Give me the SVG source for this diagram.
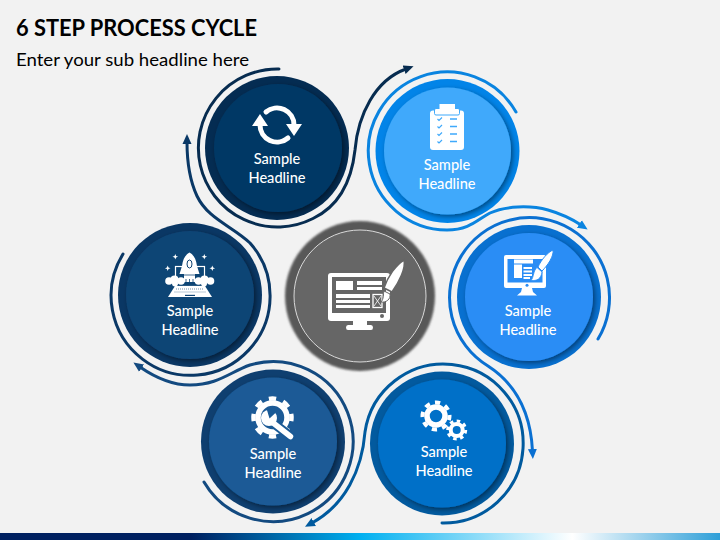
<svg xmlns="http://www.w3.org/2000/svg" width="720" height="540" viewBox="0 0 720 540">
<style>
text{font-family:Lato,"Liberation Sans",sans-serif}
.lb{fill:#fff;font-size:14.6px;text-anchor:middle;font-weight:500}
.c{fill:none;stroke-width:3;stroke-linecap:round}
.w{fill:#fff}
</style>
<defs>
<linearGradient id="foot" x1="0" x2="1" y1="0" y2="0">
<stop offset="0" stop-color="#002060"/><stop offset=".265" stop-color="#002060"/><stop offset=".5" stop-color="#00b0f0"/><stop offset=".795" stop-color="#fff"/><stop offset="1" stop-color="#2e9fd8"/>
</linearGradient>
<filter id="sh" x="-20%" y="-20%" width="140%" height="140%"><feDropShadow dx="2" dy="2" stdDeviation="2.5" flood-color="#000" flood-opacity=".45"/></filter>
<filter id="gl" x="-20%" y="-20%" width="140%" height="140%"><feGaussianBlur stdDeviation="1.200"/></filter>
<marker id="a1" markerUnits="userSpaceOnUse" markerWidth="10" markerHeight="10" refX="2" refY="5" orient="auto"><path d="M0,.5 10,5 0,9.5z" fill="#072c50"/></marker>
<marker id="a2" markerUnits="userSpaceOnUse" markerWidth="10" markerHeight="10" refX="2" refY="5" orient="auto"><path d="M0,.5 10,5 0,9.5z" fill="#0a84e0"/></marker>
<marker id="a3" markerUnits="userSpaceOnUse" markerWidth="10" markerHeight="10" refX="2" refY="5" orient="auto"><path d="M0,.5 10,5 0,9.5z" fill="#0a70d2"/></marker>
<marker id="a4" markerUnits="userSpaceOnUse" markerWidth="10" markerHeight="10" refX="2" refY="5" orient="auto"><path d="M0,.5 10,5 0,9.5z" fill="#0a3866"/></marker>
<marker id="a5" markerUnits="userSpaceOnUse" markerWidth="10" markerHeight="10" refX="2" refY="5" orient="auto"><path d="M0,.5 10,5 0,9.5z" fill="#134a80"/></marker>
<marker id="a6" markerUnits="userSpaceOnUse" markerWidth="10" markerHeight="10" refX="2" refY="5" orient="auto"><path d="M0,.5 10,5 0,9.5z" fill="#005a9e"/></marker>
</defs>
<rect width="720" height="540" fill="#f2f2f2"/>
<rect y="533" width="720" height="7" fill="url(#foot)"/>
<text x="16" y="36" font-size="23" font-weight="700" fill="#000" textLength="241" lengthAdjust="spacingAndGlyphs">6 STEP PROCESS CYCLE</text>
<text x="16" y="65.500" font-size="17.500" fill="#000" textLength="233" lengthAdjust="spacingAndGlyphs">Enter your sub headline here</text>

<g id="connectors">
<path class="c" stroke="#072c50" marker-end="url(#a1)" d="M279,69A79,79 0 1 0 313,218.500C335,208 351,186 355,150C358,115 375,80 406,69"/>
<path class="c" stroke="#0a84e0" marker-end="url(#a2)" d="M516,112A79,79 0 1 0 447,230C470,230 478,219 490,213C505,206 530,205 548,210C562,214 572,219 581,225"/>
<path class="c" stroke="#0a70d2" marker-end="url(#a3)" d="M598,339A80,80 0 1 0 488,366C505,377 530,400 532.500,451"/>
<path class="c" stroke="#0a3866" marker-end="url(#a4)" d="M123,254A79.500,79.500 0 1 0 250,243C232,226 208,219 197,196C190,181 187,160 187,142"/>
<path class="c" stroke="#134a80" marker-end="url(#a5)" d="M204,482A80,80 0 1 0 250,365C230,372 218,385 190,385C170,385 153,376 140,367"/>
<path class="c" stroke="#005a9e" marker-end="url(#a6)" d="M442,523A79.500,79.500 0 1 0 365,432C362,470 345,505 312,523"/>
</g>

<g id="node-center">
<circle cx="360" cy="296" r="75" fill="#595959" filter="url(#gl)"/>
<circle cx="360" cy="296" r="66" fill="#666" stroke="#d9d9d9" stroke-width="1"/>
<rect x="328" y="273" width="62" height="48" rx="3" class="w"/>
<rect x="332" y="277" width="54" height="36" fill="#666"/>
<path class="w" d="M353,321H367L367,325H371Q373,325 373,327.500T371,330H348Q346,330 346,327.500T348,325H353Z"/>
<circle cx="382" cy="316" r="2" fill="#666"/>
<path class="w" d="M336,281H353V290H336ZM357,281H382V285H357ZM357,287H382V290H357ZM336,294H370V298H336ZM336,300H370V303H336ZM336,305H370V308H336Z"/>
<rect x="373" y="294.500" width="9" height="13" fill="#666" stroke="#fff" stroke-width="1.300"/>
<path d="M374,296L381,306M381,296L374,306" stroke="#fff" stroke-width=".8"/>
<path d="M404,260C406,268 399,282 392,292L384,288C388,276 396,265 404,260Z" class="w" stroke="#666" stroke-width="1.500"/>
<path d="M384,291L390,294C391,299 386,303 381,302C384,299 383,294 384,291Z" class="w" stroke="#666" stroke-width="1"/>
</g>

<g id="node-1">
<circle cx="277" cy="148" r="72" fill="#042c52"/>
<circle cx="278" cy="148" r="64" fill="#053865" filter="url(#sh)"/>
<path d="M260,125A17,17 0 0 0 288,138M294,125A17,17 0 0 0 266,112" fill="none" stroke="#fff" stroke-width="5" stroke-linecap="round"/>
<path class="w" d="M252,126H268L260,114ZM286,124H302L294,136Z"/>
<text class="lb" x="277" y="164">Sample</text><text class="lb" x="277" y="183">Headline</text>
</g>

<g id="node-2">
<circle cx="447.500" cy="151" r="72" fill="#0284e8"/>
<circle cx="447.500" cy="151" r="63.500" fill="#3fa9fb" filter="url(#sh)"/>
<rect x="430" y="110.500" width="34" height="39.500" rx="3" class="w"/>
<rect x="434.500" y="108.500" width="25" height="6.500" rx="1.500" class="w" stroke="#3fa9fb" stroke-width="1"/>
<rect x="439.500" y="104" width="15.500" height="6" class="w"/>
<path d="M437.500,119l1.500,1.500 3,-3M437.500,126.500l1.500,1.500 3,-3M437.500,134l1.500,1.500 3,-3M437.500,141.500l1.500,1.500 3,-3" fill="none" stroke="#3fa9fb" stroke-width="1.200"/>
<path d="M450,119H457M450,126.500H457M450,134H457M450,141.500H457" stroke="#3fa9fb" stroke-width="1.400"/>
<text class="lb" x="447" y="170">Sample</text><text class="lb" x="447" y="189">Headline</text>
</g>

<g id="node-3">
<circle cx="529" cy="297" r="72" fill="#0870d0"/>
<circle cx="529" cy="297" r="64" fill="#2a8df5" filter="url(#sh)"/>
<rect x="504" y="255" width="42" height="33" rx="2" class="w"/>
<rect x="507.500" y="259" width="35" height="23.500" fill="#2a8df5"/>
<circle cx="527" cy="285.300" r="1.500" fill="#2a8df5"/>
<path class="w" d="M522,288H532L533,292L537,295.500H517L521,292Z"/>
<path class="w" d="M514,259.500H533V263.500H514ZM514,264.500H522V278H514ZM523.500,267H532V269H523.500ZM523.500,270.500H532V272.500H523.500ZM523.500,274H532V276H523.500ZM523.500,277H530V279H523.500Z"/>
<path class="w" stroke="#2a8df5" stroke-width="1" d="M553,250C554,256 548,265 542,271L538,267C541,260 548,252 553,250Z"/>
<path class="w" stroke="#2a8df5" stroke-width=".8" d="M537,267.500L542,272C541,279 537,281 531,280.500C534,277 533,271 537,267.500Z"/>
<text class="lb" x="528" y="316">Sample</text><text class="lb" x="528" y="334.500">Headline</text>
</g>

<g id="node-4">
<circle cx="190" cy="295" r="72" fill="#0a3764"/>
<circle cx="190" cy="295" r="64" fill="#0f4474" filter="url(#sh)"/>
<path class="w" d="M175.300,254l.8,2 2,.8 -2,.8 -.8,2 -.8,-2 -2,-.8 2,-.8ZM204.300,254l.8,2 2,.8 -2,.8 -.8,2 -.8,-2 -2,-.8 2,-.8ZM167.700,265.500l.8,2 2,.8 -2,.8 -.8,2 -.8,-2 -2,-.8 2,-.8ZM212.300,265.500l.8,2 2,.8 -2,.8 -.8,2 -.8,-2 -2,-.8 2,-.8Z"/>
<rect x="175.500" y="266.500" width="29" height="20" fill="none" stroke="#fff" stroke-width="1.200"/>
<path class="w" d="M189.500,252.500C185,255 183,259 182,266L179.500,274H184V282H195V274H199.500L197,266C196,259 194,255 189.500,252.500Z"/>
<ellipse cx="189.500" cy="264" rx="2.500" ry="4" fill="#fff" stroke="#0f4474" stroke-width="1"/>
<path d="M184,275H195M186,279V282M189.500,279V282M193,279V282" stroke="#0f4474" stroke-width=".8"/>
<g class="w"><circle cx="169" cy="281" r="3.800"/><circle cx="174.500" cy="279.500" r="4"/><circle cx="181" cy="281" r="3.800"/><circle cx="175" cy="283.500" r="3"/><circle cx="198.500" cy="281" r="3.800"/><circle cx="204.500" cy="279.500" r="4"/><circle cx="210.500" cy="281" r="3.800"/><circle cx="204" cy="283.500" r="3"/></g>
<path class="w" d="M175,286H205L212,297H168Z"/>
<path d="M176,289H204M174.500,292H205.500" stroke="#0f4474" stroke-width=".6" stroke-dasharray="1 1"/>
<rect x="185" y="294.800" width="10" height="1.200" fill="#0f4474"/>
<text class="lb" x="190" y="316">Sample</text><text class="lb" x="190" y="335">Headline</text>
</g>

<g id="node-5">
<circle cx="273" cy="441.500" r="72" fill="#0f3f70"/>
<circle cx="273" cy="441.500" r="64" fill="#1a5a96" filter="url(#sh)"/>
<circle cx="272.500" cy="417.500" r="14.500" fill="none" stroke="#fff" stroke-width="5.500"/>
<circle cx="272.500" cy="417.500" r="19" fill="none" stroke="#fff" stroke-width="4.500" pathLength="80" stroke-dasharray="5 5" stroke-dashoffset="2.500"/>
<path d="M273,423L291,436.500" stroke="#1a5a96" stroke-width="9.500" stroke-linecap="round"/>
<path d="M272,422L290.500,436.500" stroke="#fff" stroke-width="5.500" stroke-linecap="round"/>
<circle cx="269" cy="418" r="8" class="w"/>
<path d="M269.500,418.500L266.500,408.500L277.500,411Z" fill="#1a5a96"/>
<text class="lb" x="273" y="459">Sample</text><text class="lb" x="273" y="478">Headline</text>
</g>

<g id="node-6">
<circle cx="442" cy="443.500" r="72" fill="#025a9f"/>
<circle cx="442" cy="443.500" r="64" fill="#0070c8" filter="url(#sh)"/>
<circle cx="436" cy="416" r="9" fill="none" stroke="#fff" stroke-width="5.500"/>
<circle cx="436" cy="416" r="13.500" fill="none" stroke="#fff" stroke-width="4" pathLength="80" stroke-dasharray="5 5" stroke-dashoffset="1"/>
<circle cx="456.700" cy="430" r="8.500" fill="#0070c8"/>
<circle cx="456.700" cy="430" r="6" fill="none" stroke="#fff" stroke-width="4"/>
<circle cx="456.700" cy="430" r="9" fill="none" stroke="#fff" stroke-width="3" pathLength="80" stroke-dasharray="5 5"/>
<text class="lb" x="444" y="457">Sample</text><text class="lb" x="444" y="476">Headline</text>
</g>
</svg>
